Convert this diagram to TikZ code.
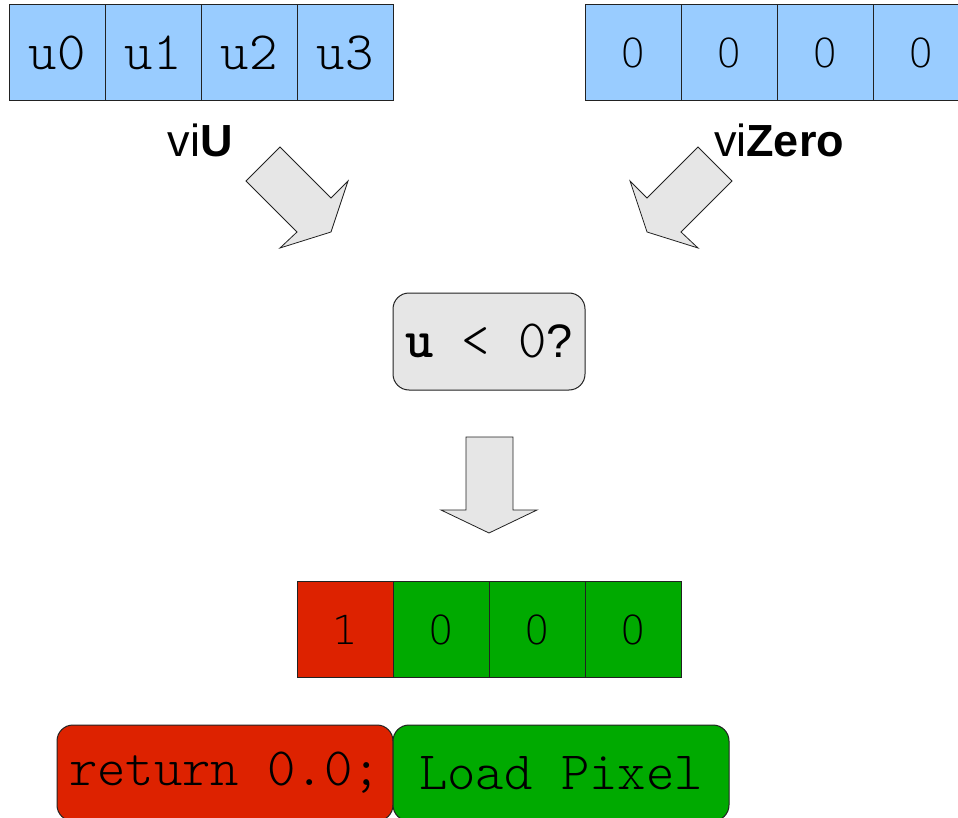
\documentclass[tikz,border=0pt]{standalone}
\usepackage{fontspec}
\setmainfont{Liberation Sans}
\newfontfamily\monof{lmmonolt10-regular.otf}[BoldFont=lmmonolt10-bold.otf]
\newfontfamily\digf{DejaVu Sans ExtraLight}
\definecolor{cblue}{HTML}{99CCFF}
\definecolor{cred}{HTML}{DD2200}
\definecolor{cgreen}{HTML}{00AA00}
\definecolor{cgray}{HTML}{E6E6E6}
\definecolor{linec}{HTML}{222222}
\begin{document}
\begin{tikzpicture}[x=1pt,y=-1pt,
  cell/.style={draw=linec, line width=1pt, minimum width=96pt, minimum height=96pt, inner sep=0pt},
  monotext/.style={font=\monof\fontsize{54}{54}\selectfont},
  digtext/.style={font=\digf\fontsize{40}{40}\selectfont},
  labeltext/.style={font=\fontsize{45}{45}\selectfont, inner sep=0pt, anchor=base},
  bigarrow/.style={draw=linec, line width=0.8pt, fill=cgray, line join=miter},
  roundbox/.style={draw=linec, line width=1pt, rounded corners=16pt, inner sep=0pt}]
\clip (0,0) rectangle (958,818);
% top-left array
\node[cell, fill=cblue, monotext] (u0) at (57,53) {u0};
\node[cell, fill=cblue, monotext] (u1) at (153,53) {u1};
\node[cell, fill=cblue, monotext] (u2) at (249,53) {u2};
\node[cell, fill=cblue, monotext] (u3) at (345,53) {u3};
% top-right array
\node[cell, fill=cblue, digtext] (z0) at (633,53) {0};
\node[cell, fill=cblue, digtext] (z1) at (729,53) {0};
\node[cell, fill=cblue, digtext] (z2) at (825,53) {0};
\node[cell, fill=cblue, digtext] (z3) at (921,53) {0};
% labels
\node[labeltext] (lu) at (200,157) {vi\textbf{U}};
\node[labeltext] (lz) at (779,157) {vi\textbf{Zero}};
% diagonal block arrows
\draw[bigarrow] (280,147) -- (246,181) -- (297,232) -- (280,248) -- (331,232) -- (348,181) -- (331,198) -- cycle;
\draw[bigarrow] (698,147) -- (732,181) -- (681,232) -- (698,248) -- (647,232) -- (630,181) -- (647,198) -- cycle;
% comparison box
\node[roundbox, fill=cgray, minimum width=192pt, minimum height=97pt] (cmp) at (489,341.5)
  {\monof\fontsize{54}{54}\selectfont\textbf{u} < 0\fontsize{47}{47}\rmfamily?};
% down arrow
\draw[bigarrow] (466,437) -- (513,437) -- (513,510) -- (537,510) -- (489,533) -- (441,510) -- (466,510) -- cycle;
% result array
\node[cell, fill=cred, digtext] (r0) at (345,629.5) {1};
\node[cell, fill=cgreen, digtext] (r1) at (441,629.5) {0};
\node[cell, fill=cgreen, digtext] (r2) at (537,629.5) {0};
\node[cell, fill=cgreen, digtext] (r3) at (633,629.5) {0};
% bottom boxes
\node[roundbox, fill=cred, minimum width=336pt, minimum height=96pt, monotext] (ret) at (225,773) {return 0.0;};
\node[roundbox, fill=cgreen, minimum width=336pt, minimum height=96pt, monotext] (load) at (561,773) {Load Pixel};
\end{tikzpicture}
\end{document}
